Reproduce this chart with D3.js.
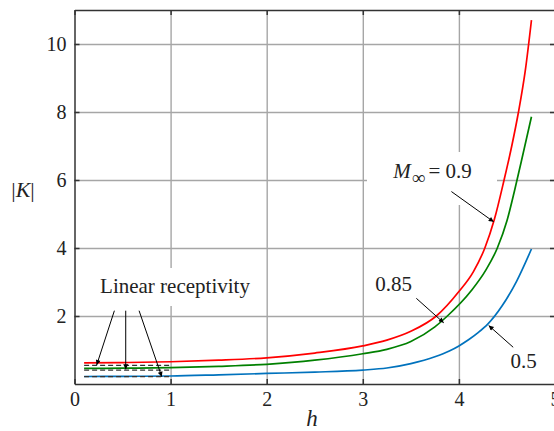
<!DOCTYPE html>
<html>
<head>
  <meta charset="utf-8">
  <title>|K| vs h</title>
  <script src="https://d3js.org/d3.v7.min.js"></script>
  <style>
    body { margin: 0; background: #fff; }
    svg text { font-family: 'Times New Roman', Tinos, 'Liberation Serif', serif; fill: #222; }
  </style>
</head>
<body>
  <script>
    // data (h, |K|) for M = 0.9, 0.85, 0.5
    var h090 = [0.1, 0.5, 1, 1.5, 2, 2.5, 3, 3.25, 3.5, 3.765, 4.0, 4.15, 4.27, 4.37, 4.47, 4.55, 4.62, 4.69, 4.755];
    var k090 = [0.62, 0.63, 0.655, 0.70, 0.77, 0.91, 1.12, 1.29, 1.55, 2.0, 2.72, 3.3, 4.0, 4.85, 6.0, 7.0, 8.0, 9.2, 10.7];
    var h085 = [0.1, 0.5, 1, 1.5, 2, 2.5, 3, 3.25, 3.5, 3.75, 3.88, 4.13, 4.28, 4.40, 4.50, 4.58, 4.67, 4.755];
    var k085 = [0.46, 0.465, 0.48, 0.52, 0.58, 0.70, 0.89, 1.02, 1.25, 1.68, 2.0, 2.75, 3.35, 4.0, 4.8, 5.7, 6.8, 7.86];
    var h050 = [0.1, 0.5, 1, 1.5, 2, 2.5, 3, 3.25, 3.5, 3.75, 3.9, 4.0, 4.1, 4.2, 4.3, 4.45, 4.6, 4.755];
    var k050 = [0.22, 0.225, 0.235, 0.27, 0.31, 0.35, 0.41, 0.47, 0.60, 0.80, 0.97, 1.12, 1.30, 1.51, 1.76, 2.30, 3.02, 3.97];
    // linear receptivity (dashed), h from 0.1 to 1
    var linH = [0.1, 1.0];
    var lin090 = [0.55, 0.55];
    var lin085 = [0.41, 0.41];
    var lin050 = [0.215, 0.215];

    var xTicks = [0, 1, 2, 3, 4, 5];
    var yTicks = [2, 4, 6, 8, 10];

    var width = 554, height = 431;
    var svg = d3.select('body').append('svg')
      .attr('width', width)
      .attr('height', height);

    var x = d3.scaleLinear().domain([0, 5]).range([74.5, 555]);
    var y = d3.scaleLinear().domain([0, 11]).range([384, 10]);

    // grid
    svg.append('g')
      .attr('transform', 'translate(0,384)')
      .call(d3.axisBottom(x).tickValues([1, 2, 3, 4]).tickSize(-374).tickFormat(''))
      .call(g => g.select('.domain').remove())
      .selectAll('line').attr('stroke', '#a6a6a6').attr('stroke-width', 1.4);
    svg.append('g')
      .attr('transform', 'translate(74.5,0)')
      .call(d3.axisLeft(y).tickValues(yTicks).tickSize(-481).tickFormat(''))
      .call(g => g.select('.domain').remove())
      .selectAll('line').attr('stroke', '#a6a6a6').attr('stroke-width', 1.4);

    // white boxes behind the annotations
    var boxes = [[367, 152, 130, 53], [95, 268, 163, 38], [372, 270, 44, 26], [506, 348, 34, 26]];
    svg.selectAll('rect.knock').data(boxes).enter().append('rect')
      .attr('class', 'knock')
      .attr('x', d => d[0]).attr('y', d => d[1])
      .attr('width', d => d[2]).attr('height', d => d[3])
      .attr('fill', '#fff');

    // curves
    var line = d3.line()
      .x(d => x(d[0]))
      .y(d => y(d[1]))
      .curve(d3.curveMonotoneX);

    var series = [
      { hs: h050, vals: k050, color: '#0072bd' },
      { hs: h085, vals: k085, color: '#008000' },
      { hs: h090, vals: k090, color: '#ff0000' }
    ];
    series.forEach(function (s) {
      svg.append('path')
        .datum(s.hs.map((h, i) => [h, s.vals[i]]))
        .attr('fill', 'none')
        .attr('stroke', s.color)
        .attr('stroke-width', 1.7)
        .attr('d', line);
    });

    [lin090, lin085, lin050].forEach(function (v) {
      svg.append('path')
        .datum(linH.map((h, i) => [h, v[i]]))
        .attr('fill', 'none')
        .attr('stroke', '#333')
        .attr('stroke-width', 1.3)
        .attr('stroke-dasharray', '5,3')
        .attr('d', line);
    });

    // frame + inward ticks
    function frame(g) {
      g.attr('font-family', null).attr('font-size', null);
      g.selectAll('.domain').attr('stroke', '#333').attr('stroke-width', 1.5);
      g.selectAll('.tick line').attr('stroke', '#333').attr('stroke-width', 1.5);
      g.selectAll('.tick text').style('font-size', '20px').attr('fill', '#222');
    }
    svg.append('g').attr('transform', 'translate(0,384)')
      .call(d3.axisBottom(x).tickValues(xTicks).tickSize(-5).tickSizeOuter(0).tickPadding(8).tickFormat(d3.format('d')))
      .call(frame);
    svg.append('g').attr('transform', 'translate(0,10)')
      .call(d3.axisTop(x).tickValues(xTicks).tickSize(-5).tickSizeOuter(0).tickFormat(''))
      .call(frame);
    svg.append('g').attr('transform', 'translate(74.5,0)')
      .call(d3.axisLeft(y).tickValues(yTicks).tickSize(-5).tickSizeOuter(0).tickPadding(8).tickFormat(d3.format('d')))
      .call(frame);
    svg.append('g').attr('transform', 'translate(555,0)')
      .call(d3.axisRight(y).tickValues(yTicks).tickSize(-5).tickSizeOuter(0).tickFormat(''))
      .call(frame);

    // axis labels
    svg.append('text')
      .attr('x', 312).attr('y', 426)
      .attr('text-anchor', 'middle')
      .style('font-size', '23px').style('font-style', 'italic')
      .text('h');
    var yl = svg.append('text')
      .attr('x', 23).attr('y', 197)
      .attr('text-anchor', 'middle')
      .style('font-size', '22px');
    yl.append('tspan').text('|');
    yl.append('tspan').style('font-style', 'italic').text('K');
    yl.append('tspan').text('|');

    // arrows
    svg.append('defs').append('marker')
      .attr('id', 'arr')
      .attr('viewBox', '0 0 10 10')
      .attr('refX', 10).attr('refY', 5)
      .attr('markerWidth', 7).attr('markerHeight', 5)
      .attr('markerUnits', 'userSpaceOnUse')
      .attr('orient', 'auto')
      .append('path').attr('d', 'M0,0L10,5L0,10Z').attr('fill', '#000');

    // [tail h, tail k, head h, head k]
    var arrows = [
      [3.922, 5.66, 4.362, 4.77],
      [3.557, 2.52, 3.842, 1.80],
      [4.565, 1.08, 4.31, 1.72],
      [0.415, 2.156, 0.231, 0.559],
      [0.533, 2.156, 0.533, 0.432],
      [0.672, 2.156, 0.908, 0.215]
    ];
    svg.selectAll('line.arrow').data(arrows).enter().append('line')
      .attr('class', 'arrow')
      .attr('x1', d => x(d[0])).attr('y1', d => y(d[1]))
      .attr('x2', d => x(d[2])).attr('y2', d => y(d[3]))
      .attr('stroke', '#000').attr('stroke-width', 1)
      .attr('marker-end', 'url(#arr)');

    // annotation text
    var notes = [
      { h: 0.266, k: 2.676, t: 'Linear receptivity' },
      { h: 3.13, k: 2.735, t: '0.85' },
      { h: 4.536, k: 0.47, t: '0.5' }
    ];
    svg.selectAll('text.note').data(notes).enter().append('text')
      .attr('class', 'note')
      .attr('x', d => x(d.h)).attr('y', d => y(d.k))
      .style('font-size', '21px')
      .text(d => d.t);

    var m = svg.append('text')
      .attr('x', x(3.318)).attr('y', y(6.06))
      .style('font-size', '21px');
    m.append('tspan').style('font-style', 'italic').text('M');
    m.append('tspan').attr('dy', 6).attr('dx', 1).style('font-size', '19px').text('∞');
    m.append('tspan').attr('dy', -6).attr('dx', 3).text('= 0.9');
  </script>
</body>
</html>
